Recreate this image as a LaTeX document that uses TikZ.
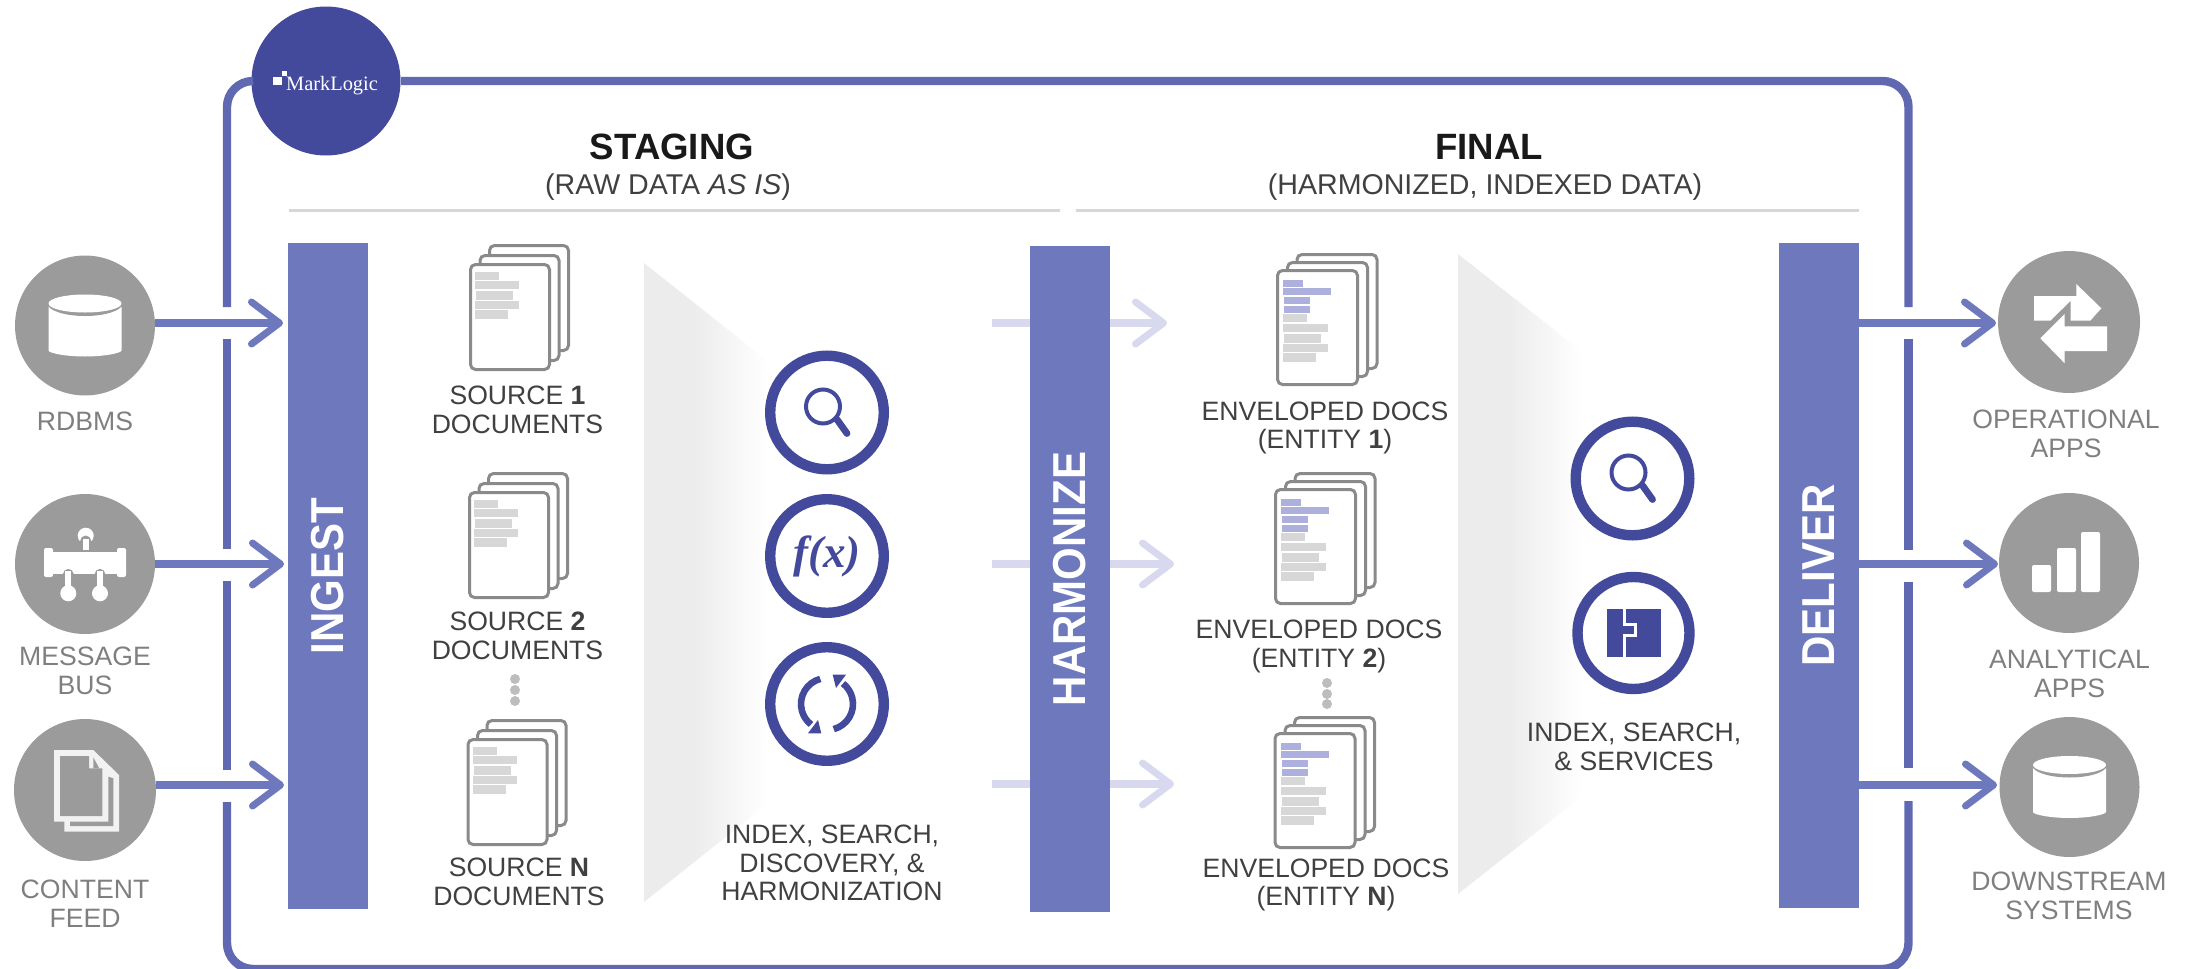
\documentclass[tikz,border=0pt]{standalone}
\usepackage{fontspec}
\setmainfont{Liberation Sans}
\newfontfamily\logofont{Liberation Serif}
\usetikzlibrary{arrows.meta}

\definecolor{barblue}{HTML}{6E78BC}
\definecolor{frameblue}{HTML}{6068B2}
\definecolor{ringblue}{HTML}{444A9B}
\definecolor{fadeblue}{HTML}{D8D9EE}
\definecolor{softblue}{HTML}{ADB0DC}
\definecolor{circlegrey}{HTML}{9B9B9B}
\definecolor{labelgrey}{HTML}{7F7F7F}
\definecolor{textgrey}{HTML}{404040}
\definecolor{pagegrey}{HTML}{8A8A8A}
\definecolor{linegrey}{HTML}{D7D7D7}
\definecolor{dotgrey}{HTML}{BDBDBD}
\definecolor{funnelgrey}{HTML}{ECECEC}

\pgfdeclarehorizontalshading{funnelfade}{100bp}{color(0bp)=(funnelgrey); color(44bp)=(funnelgrey); color(72bp)=(white); color(100bp)=(white)}

\newcommand{\barlabel}[1]{\rotatebox{90}{\scalebox{1}[1.1]{#1}}}

\tikzset{
	phasebar/.style={rectangle,fill=barblue,text=white,inner sep=0pt,minimum width=40pt,font=\fontsize{21}{21}\selectfont\bfseries},
	endpoint/.style={circle,fill=circlegrey,inner sep=0pt,minimum size=70pt},
	ringnode/.style={circle,draw=ringblue,fill=white,line width=5.2pt,inner sep=0pt,minimum size=56.8pt},
	greylabel/.style={align=center,text=labelgrey,inner sep=0pt,font=\fontsize{13.3}{14.4}\selectfont},
	darklabel/.style={align=center,text=textgrey,inner sep=0pt,font=\fontsize{13.3}{14.4}\selectfont},
	framebar/.style={draw=frameblue,line width=4.2pt,rounded corners=13pt},
	flowarrow/.style={draw=barblue,line width=4.2pt,-{Straight Barb[length=14pt,width=21pt,line width=3.5pt,round]}},
	backarrow/.style={flowarrow,draw=fadeblue},
	stub/.style={draw=fadeblue,line width=4.2pt},
	headrule/.style={draw=linegrey,line width=1.2pt},
	page/.style={draw=pagegrey,fill=white,line width=1.5pt,rounded corners=2.5pt},
	lens/.pic={
		\draw[ringblue,line width=2pt] (-4,-6) circle (17);
		\draw[ringblue,line width=3.4pt,line cap=round] (10,7) -- (20,21);
	},
	cylinder icon/.pic={
		\fill[white,rounded corners=1pt] (-36.5,-20) -- (-36.5,23) arc (180:0:36.5 and 8) -- (36.5,-20) -- cycle;
		\fill[circlegrey] (0,-22) ellipse (37.5 and 12.5);
		\fill[white] (0,-22) ellipse (36.5 and 9);
	},
	sourcedocs/.pic={
		\foreach \dx/\dy in {19/-19,9.5/-9,0/0}
			\draw[page] (\dx+1.5,\dy+1.5) rectangle ++(79,105);
		\foreach \bx/\by/\bw/\bh in {6/9/24/8,6/18/44/8,7/28/37/9,6/38/44/8,6/47/33/9}
			\fill[linegrey] (\bx,\by) rectangle ++(\bw,\bh);
	},
	envelopeddocs/.pic={
		\foreach \dx/\dy in {19.5/-16,10/-8,0/0}
			\draw[page] (\dx+1.5,\dy+1.5) rectangle ++(80,114);
		\foreach \bx/\by/\bw/\bh in {7/11/20/7,7/19/48/7,8/28/26/7,8/37/26/7}
			\fill[softblue] (\bx,\by) rectangle ++(\bw,\bh);
		\foreach \bx/\by/\bw/\bh in {7/45/24/8,7/55/45/8,8/65/37/9,7/75/45/8,7/84/33/9}
			\fill[linegrey] (\bx,\by) rectangle ++(\bw,\bh);
	},
}

\begin{document}
\begin{tikzpicture}[x=0.5pt,y=-0.5pt]
	\useasboundingbox (0,0) rectangle (2191,969);

	% fading wedges behind the search circles
	\path[shading=funnelfade] (644,263) -- (775,367) -- (775,798) -- (644,902) -- cycle;
	\path[shading=funnelfade] (1458,254) -- (1590,358) -- (1590,790) -- (1458,894) -- cycle;

	\node[circle,fill=ringblue,inner sep=0pt,minimum size=74.5pt] (marklogic) at (326,81) {};
	\node[text=white,inner sep=0pt,font=\logofont\fontsize{10.2}{10}\selectfont] (marklogictext) at (332,85.5) {MarkLogic};
	\fill[white] (273,77) rectangle (282,85);
	\fill[white] (282,71) rectangle (287,76);

	% frame, open where the arrows pass
	\draw[framebar] (marklogic) -- (227,81) -- (227,307);
	\draw[framebar] (marklogic) -- (1908.5,81) -- (1908.5,307);
	\draw[framebar] (1908.5,801) -- (1908.5,969) -- (227,969) -- (227,802);
	\draw[framebar] (227,339) -- (227,549);
	\draw[framebar] (227,581) -- (227,770);
	\draw[framebar] (1908.5,339) -- (1908.5,550);
	\draw[framebar] (1908.5,582) -- (1908.5,768);

	\node[phasebar,minimum height=333pt] (ingest) at (328,576) {\barlabel{INGEST}};
	\node[phasebar,minimum height=333pt] (harmonize) at (1070,579) {\barlabel{HARMONIZE}};
	\node[phasebar,minimum height=332.5pt] (deliver) at (1819,575.5) {\barlabel{DELIVER}};

	\node[endpoint] (rdbms) at (85,325.5) {};
	\node[endpoint] (bus) at (85,564) {};
	\node[endpoint,minimum size=71pt] (feed) at (85,790) {};
	\node[endpoint,minimum size=71pt] (operational) at (2069,322) {};
	\node[endpoint] (analytical) at (2069,563) {};
	\node[endpoint] (downstream) at (2069.5,787) {};

	\node[greylabel] (rdbmslabel) at (85,421.5) {RDBMS};
	\node[greylabel] (buslabel) at (85,671) {MESSAGE\\BUS};
	\node[greylabel] (feedlabel) at (85,904) {CONTENT\\FEED};
	\node[greylabel] (operationallabel) at (2066,433.5) {OPERATIONAL\\APPS};
	\node[greylabel] (analyticallabel) at (2069.5,674) {ANALYTICAL\\APPS};
	\node[greylabel] (downstreamlabel) at (2069,895.5) {DOWNSTREAM\\SYSTEMS};

	% arrow tips
	\coordinate (in1) at (283,323);
	\coordinate (in2) at (284,564);
	\coordinate (in3) at (284,785);
	\coordinate (mid1) at (1167,323);
	\coordinate (mid2) at (1174,564);
	\coordinate (mid3) at (1174,784);
	\coordinate (out1) at (1996,323);
	\coordinate (out2) at (1998,564);
	\coordinate (out3) at (1997,785);
	\coordinate (stub1) at (992,323);
	\coordinate (stub2) at (992,564);
	\coordinate (stub3) at (992,784);

	\draw[flowarrow] (rdbms.east |- in1) -- (in1);
	\draw[flowarrow] (bus.east |- in2) -- (in2);
	\draw[flowarrow] (feed.east |- in3) -- (in3);
	\draw[stub] (stub1) -- (harmonize.west |- stub1);
	\draw[stub] (stub2) -- (harmonize.west |- stub2);
	\draw[stub] (stub3) -- (harmonize.west |- stub3);
	\draw[backarrow] (harmonize.east |- mid1) -- (mid1);
	\draw[backarrow] (harmonize.east |- mid2) -- (mid2);
	\draw[backarrow] (harmonize.east |- mid3) -- (mid3);
	\draw[flowarrow] (deliver.east |- out1) -- (out1);
	\draw[flowarrow] (deliver.east |- out2) -- (out2);
	\draw[flowarrow] (deliver.east |- out3) -- (out3);

	\node[inner sep=0pt,text=black!90,font=\fontsize{18.3}{18}\selectfont\bfseries] (staging) at (672,147) {STAGING};
	\node[inner sep=0pt,text=textgrey,font=\fontsize{14.3}{14}\selectfont] (stagingsub) at (668,187.5) {(RAW DATA \textit{AS IS})};
	\node[inner sep=0pt,text=black!90,font=\fontsize{18.3}{18}\selectfont\bfseries] (final) at (1489,147) {FINAL};
	\node[inner sep=0pt,text=textgrey,font=\fontsize{14.3}{14}\selectfont] (finalsub) at (1485,187.5) {(HARMONIZED, INDEXED DATA)};
	\coordinate (rulea) at (289,210.5);
	\coordinate (ruleb) at (1060,210.5);
	\coordinate (rulec) at (1076,210.5);
	\coordinate (ruled) at (1859,210.5);
	\draw[headrule] (rulea) -- (ruleb);
	\draw[headrule] (rulec) -- (ruled);

	\pic (srcone) at (469,263) {sourcedocs};
	\pic (srctwo) at (468,491) {sourcedocs};
	\pic (srcn) at (466.5,738) {sourcedocs};
	\node[darklabel] (srconelabel) at (517.5,410) {SOURCE \textbf{1}\\DOCUMENTS};
	\node[darklabel] (srctwolabel) at (517.5,636) {SOURCE \textbf{2}\\DOCUMENTS};
	\node[darklabel] (srcnlabel) at (519,882) {SOURCE \textbf{N}\\DOCUMENTS};

	\pic (envone) at (1276,269) {envelopeddocs};
	\pic (envtwo) at (1274,488) {envelopeddocs};
	\pic (envn) at (1273.5,732) {envelopeddocs};
	\node[darklabel] (envonelabel) at (1325,428) {ENVELOPED DOCS\\(ENTITY \textbf{1})};
	\node[darklabel] (envtwolabel) at (1319,646.5) {ENVELOPED DOCS\\(ENTITY \textbf{2})};
	\node[darklabel] (envnlabel) at (1326,885) {ENVELOPED DOCS\\(ENTITY \textbf{N})};

	\foreach \y in {679,690,701}
		\fill[dotgrey] (515,\y) circle (5);
	\foreach \y in {683,694,704}
		\fill[dotgrey] (1327,\y) circle (5);

	\node[ringnode] (search) at (827,412.5) {};
	\node[ringnode,text=ringblue,font=\logofont\fontsize{22.5}{22.5}\selectfont\bfseries\itshape] (function) at (827,556) {f(x)};
	\node[ringnode] (refresh) at (827,704) {};
	\node[ringnode] (finalsearch) at (1632.5,478.5) {};
	\node[ringnode,minimum size=56pt] (services) at (1633.5,633) {};
	\node[darklabel] (stagingtools) at (832,863) {INDEX, SEARCH,\\DISCOVERY, \&\\HARMONIZATION};
	\node[darklabel] (finaltools) at (1634,747) {INDEX, SEARCH,\\\& SERVICES};

	\pic at (search) {lens};
	\pic at (finalsearch) {lens};
	\begin{scope}[shift={(refresh)}]
		\foreach \a in {0,180} {
			\begin{scope}[rotate=\a]
				\draw[ringblue,line width=3.3pt] (255:26) arc (255:128:26);
				\fill[ringblue] (-5.7,29.3) -- (-19,29.3) -- (-9,16) -- cycle;
			\end{scope}
		}
	\end{scope}
	\begin{scope}[shift={(services)}]
		\fill[ringblue] (-27,-24) rectangle (27,24);
		\draw[white,line width=1.5pt] (-9,-24) -- (-9,-9) -- (2,-9) -- (2,2) -- (-9,2) -- (-9,24);
	\end{scope}

	\pic at (rdbms) {cylinder icon};
	\pic at (downstream) {cylinder icon};
	\begin{scope}[shift={(bus)}]
		\fill[white] (0.7,-28.3) circle (8);
		\fill[circlegrey] (-9,-23) rectangle (10,-16);
		\fill[circlegrey] (0.7,-23) circle (5.5);
		\fill[white] (-2.3,-25) rectangle (3.7,-14);
		\fill[white,rounded corners=1pt] (-41,-16) rectangle (-32,13);
		\fill[white,rounded corners=1pt] (32,-16) rectangle (41,13);
		\fill[white] (-33,-12.3) rectangle (33,10);
		\foreach \x in {-16.7,15} {
			\fill[circlegrey,rounded corners=2.5pt] (\x-5.2,5) rectangle (\x+5.2,14);
			\fill[white] (\x-3,7) rectangle (\x+3,25);
			\fill[white] (\x,29.3) circle (8);
		}
	\end{scope}
	\begin{scope}[shift={(feed)}]
		\fill[white!95!black] (-31,-40) -- (8.3,-40) -- (34,-15) -- (34,41.7) -- (-20.7,41.7) -- (-20.7,31.7) -- (-31,31.7) -- cycle;
		\fill[circlegrey] (-25,-34) -- (4,-34) -- (4,-21.7) -- (17.3,-21.7) -- (17.3,26) -- (-25,26) -- cycle;
		\fill[circlegrey] (8.3,-32.7) -- (14.3,-21.7) -- (8.3,-21.7) -- cycle;
		\fill[circlegrey] (23.3,-13.3) -- (28.3,-11.7) -- (28.3,36) -- (-15,36) -- (-15,31.7) -- (23.3,31.7) -- cycle;
	\end{scope}
	\begin{scope}[shift={(operational)}]
		\fill[white] (-35,-26) -- (7.3,-26) -- (7.3,-38) -- (32.3,-13.7) -- (21.3,-1.3) -- (1.7,-1.3) -- (1.7,-21.3) -- (-18.7,-1.3) -- (-35,-1.3) -- cycle;
		\fill[white] (-28.7,16.3) -- (-4.3,-8) -- (-4.3,4.3) -- (38,4.3) -- (38,29) -- (-4.3,29) -- (-4.3,41.3) -- cycle;
	\end{scope}
	\begin{scope}[shift={(analytical)}]
		\fill[white,rounded corners=1pt] (-37,2) rectangle (-18,29);
		\fill[white,rounded corners=1pt] (-12,-15) rectangle (7,29);
		\fill[white,rounded corners=1pt] (12,-31) rectangle (31,29);
	\end{scope}
\end{tikzpicture}
\end{document}
